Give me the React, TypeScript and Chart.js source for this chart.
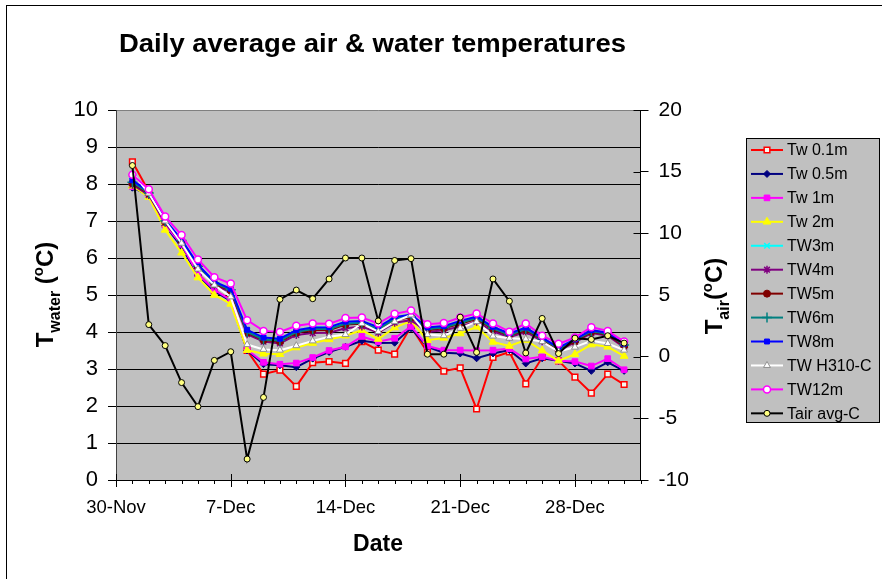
import React, { useEffect, useRef } from "react";
import { Chart, registerables } from "chart.js";
import { drawPoint } from "chart.js/helpers";

Chart.register(...registerables);

const FONT = "'Liberation Sans', Arial, sans-serif";

// day offset from 30-Nov (1 = 1-Dec ... 31 = 31-Dec)
const days = [1, 2, 3, 4, 5, 6, 7, 8, 9, 10, 11, 12, 13, 14, 15, 16, 17, 18, 19, 20, 21, 22, 23, 24, 25, 26, 27, 28, 29, 30, 31];
const xTickLabels = ["30-Nov", "7-Dec", "14-Dec", "21-Dec", "28-Dec"];
const seriesNames = ["Tw 0.1m", "Tw 0.5m", "Tw 1m", "Tw 2m", "TW3m", "TW4m", "TW5m", "TW6m", "TW8m", "TW H310-C", "TW12m", "Tair avg-C"];

const tw01 = [8.6, 7.8, 6.92, 6.35, 5.58, 5.12, 4.88, 3.5, 2.86, 2.97, 2.53, 3.17, 3.2, 3.15, 3.74, 3.51, 3.4, 4.14, 3.45, 2.94, 3.03, 1.92, 3.31, 3.46, 2.6, 3.31, 3.22, 2.78, 2.35, 2.86, 2.58];
const tw05 = [7.9, 7.7, 6.88, 6.3, 5.54, 5.1, 4.84, 3.5, 3.13, 3.1, 3.05, 3.28, 3.46, 3.6, 3.76, 3.7, 3.71, 4.1, 3.6, 3.44, 3.42, 3.29, 3.42, 3.51, 3.15, 3.29, 3.22, 3.15, 2.95, 3.18, 2.95];
const tw1 = [7.93, 7.72, 6.89, 6.37, 5.56, 5.14, 4.86, 3.52, 3.18, 3.13, 3.16, 3.31, 3.5, 3.6, 3.88, 3.74, 3.83, 4.15, 3.62, 3.51, 3.51, 3.5, 3.51, 3.55, 3.27, 3.33, 3.22, 3.2, 3.08, 3.28, 2.98];
const tw2 = [7.95, 7.65, 6.76, 6.14, 5.47, 5.0, 4.76, 3.51, 3.41, 3.4, 3.58, 3.7, 3.8, 3.9, 4.05, 3.81, 4.12, 4.3, 3.78, 3.84, 3.96, 4.14, 3.73, 3.62, 3.78, 3.5, 3.22, 3.4, 3.66, 3.6, 3.35];
const tw3 = [8.08, 7.78, 7.02, 6.5, 5.8, 5.35, 5.16, 4.03, 3.83, 3.8, 4.05, 4.12, 4.12, 4.27, 4.28, 4.12, 4.38, 4.45, 4.1, 4.15, 4.28, 4.4, 4.12, 3.95, 4.1, 3.84, 3.57, 3.8, 4.05, 3.97, 3.68];
const tw4 = [7.98, 7.7, 6.95, 6.4, 5.72, 5.26, 5.08, 3.94, 3.74, 3.69, 3.92, 3.97, 3.98, 4.1, 4.15, 3.98, 4.25, 4.32, 4.0, 4.05, 4.15, 4.28, 4.02, 3.86, 4.0, 3.75, 3.5, 3.72, 3.97, 3.9, 3.58];
const tw5 = [8.02, 7.74, 6.98, 6.45, 5.76, 5.3, 5.12, 3.98, 3.78, 3.74, 3.98, 4.05, 4.05, 4.2, 4.22, 4.05, 4.32, 4.4, 4.05, 4.1, 4.22, 4.35, 4.08, 3.9, 4.05, 3.8, 3.52, 3.75, 4.0, 3.93, 3.62];
const tw6 = [8.05, 7.76, 7.0, 6.47, 5.78, 5.33, 5.14, 4.0, 3.8, 3.77, 4.0, 4.08, 4.08, 4.22, 4.25, 4.08, 4.35, 4.42, 4.08, 4.12, 4.25, 4.38, 4.1, 3.92, 4.08, 3.82, 3.55, 3.78, 4.02, 3.95, 3.65];
const tw8 = [8.1, 7.8, 7.02, 6.5, 5.82, 5.36, 5.17, 4.06, 3.85, 3.82, 4.05, 4.12, 4.13, 4.28, 4.3, 4.13, 4.4, 4.47, 4.12, 4.16, 4.3, 4.42, 4.14, 3.96, 4.12, 3.85, 3.58, 3.8, 4.05, 3.98, 3.68];
const twH310 = [8.3, 7.75, 7.0, 6.4, 5.7, 5.27, 4.95, 3.66, 3.53, 3.51, 3.63, 3.76, 3.87, 3.93, 4.23, 4.01, 4.28, 4.46, 3.93, 3.9, 4.1, 4.28, 3.89, 3.83, 3.81, 3.74, 3.47, 3.59, 3.76, 3.69, 3.51];
const tw12 = [8.25, 7.86, 7.12, 6.62, 5.96, 5.48, 5.31, 4.32, 4.03, 4.0, 4.17, 4.23, 4.22, 4.38, 4.39, 4.23, 4.49, 4.58, 4.21, 4.24, 4.39, 4.5, 4.23, 4.01, 4.23, 3.9, 3.68, 3.85, 4.13, 4.03, 3.74];
const tair = [15.5, 2.6, 0.9, -2.1, -4.05, -0.3, 0.4, -8.3, -3.3, 4.65, 5.4, 4.7, 6.3, 8.0, 8.0, 2.9, 7.8, 7.95, 0.2, 0.2, 3.2, 0.35, 6.3, 4.5, 0.3, 3.1, 0.25, 1.5, 1.4, 1.7, 1.1];

const seriesValues = [tw01, tw05, tw1, tw2, tw3, tw4, tw5, tw6, tw8, twH310, tw12, tair];

type Style = { line: string; style: any; r: number; bg: string; bd: string; bw: number };
const styles: Style[] = [
  { line: "#FF0000", style: "rect", r: 4, bg: "#F4F8F0", bd: "#FF0000", bw: 1.5 },
  { line: "#000080", style: "rectRot", r: 3.5, bg: "#000080", bd: "#000080", bw: 1 },
  { line: "#FF00FF", style: "rect", r: 4, bg: "#FF00FF", bd: "#FF00FF", bw: 1 },
  { line: "#FFFF00", style: "triangle", r: 4.5, bg: "#FFFF00", bd: "#FFFF00", bw: 1 },
  { line: "#00FFFF", style: "crossRot", r: 4, bg: "#00FFFF", bd: "#00FFFF", bw: 1.5 },
  { line: "#800080", style: "star", r: 4, bg: "#800080", bd: "#800080", bw: 1.5 },
  { line: "#800000", style: "circle", r: 3.5, bg: "#800000", bd: "#800000", bw: 1 },
  { line: "#008080", style: "cross", r: 5, bg: "#008080", bd: "#008080", bw: 1.5 },
  { line: "#0000FF", style: "rect", r: 3.5, bg: "#0000FF", bd: "#0000FF", bw: 1 },
  { line: "#FFFFFF", style: "triangle", r: 4, bg: "#FFFFFF", bd: "#909090", bw: 1 },
  { line: "#FF00FF", style: "circle", r: 3.5, bg: "#FFFFFF", bd: "#FF00FF", bw: 1.5 },
  { line: "#000000", style: "circle", r: 3, bg: "#FFFF80", bd: "#000000", bw: 1 },
];

function drawRich(ctx: CanvasRenderingContext2D, parts: { t: string; size: number; dy: number }[]) {
  let total = 0;
  for (const p of parts) {
    ctx.font = `bold ${p.size}px ${FONT}`;
    total += ctx.measureText(p.t).width;
  }
  let x = -total / 2;
  ctx.textAlign = "left";
  ctx.textBaseline = "alphabetic";
  for (const p of parts) {
    ctx.font = `bold ${p.size}px ${FONT}`;
    ctx.fillText(p.t, x, p.dy);
    x += ctx.measureText(p.t).width;
  }
}

const decorPlugin = {
  id: "decor",
  beforeDraw(chart: any) {
    const ctx = chart.ctx as CanvasRenderingContext2D;
    const a = chart.chartArea;
    ctx.save();
    ctx.fillStyle = "#FFFFFF";
    ctx.fillRect(0, 0, chart.width, chart.height);
    ctx.strokeStyle = "#000000";
    ctx.lineWidth = 1;
    ctx.strokeRect(6.5, 5.5, 900, 600);
    ctx.fillStyle = "#C0C0C0";
    ctx.fillRect(a.left, a.top, a.right - a.left, a.bottom - a.top);
    ctx.restore();
  },
  afterDraw(chart: any) {
    const ctx = chart.ctx as CanvasRenderingContext2D;
    const a = chart.chartArea;
    const xs = chart.scales.x;
    const y2 = chart.scales.y2;
    ctx.save();
    // x-axis ticks
    ctx.strokeStyle = "#000000";
    ctx.lineWidth = 1;
    for (let d = 0; d <= 32; d++) {
      const px = Math.round(xs.getPixelForValue(d)) + 0.5;
      ctx.beginPath();
      if (d % 7 === 0) {
        ctx.moveTo(px, a.bottom - 6);
        ctx.lineTo(px, a.bottom + 7);
      } else {
        ctx.moveTo(px, a.bottom);
        ctx.lineTo(px, a.bottom + 4);
      }
      ctx.stroke();
    }
    // right axis inner ticks
    for (let v = -10; v <= 20; v += 5) {
      const py = Math.round(y2.getPixelForValue(v)) + 0.5;
      ctx.beginPath();
      ctx.moveTo(a.right - 7, py);
      ctx.lineTo(a.right, py);
      ctx.stroke();
    }
    // title (stretched to the reference's width)
    ctx.fillStyle = "#000000";
    const title = "Daily average air & water temperatures";
    ctx.font = `bold 26px ${FONT}`;
    ctx.textAlign = "left";
    ctx.textBaseline = "alphabetic";
    const tw = ctx.measureText(title).width;
    ctx.save();
    ctx.translate(119, 52);
    ctx.scale(507 / tw, 1);
    ctx.fillText(title, 0, 0);
    ctx.restore();
    // x title
    ctx.font = `bold 23px ${FONT}`;
    ctx.textAlign = "center";
    ctx.fillText("Date", 378, 551);
    // left title
    ctx.save();
    ctx.translate(53, 294.5);
    ctx.rotate(-Math.PI / 2);
    drawRich(ctx, [
      { t: "T", size: 24, dy: 0 },
      { t: "water", size: 16, dy: 7 },
      { t: " (", size: 24, dy: 0 },
      { t: "o", size: 15, dy: -10 },
      { t: "C)", size: 24, dy: 0 },
    ]);
    ctx.restore();
    // right title
    ctx.save();
    ctx.translate(722, 296);
    ctx.rotate(-Math.PI / 2);
    drawRich(ctx, [
      { t: "T", size: 24, dy: 0 },
      { t: "air", size: 16, dy: 7 },
      { t: "(", size: 24, dy: 0 },
      { t: "o", size: 15, dy: -10 },
      { t: "C)", size: 24, dy: 0 },
    ]);
    ctx.restore();
    // legend
    const lx = 746.5, ly = 138.5, lw = 133, lh = 284;
    ctx.fillStyle = "#C0C0C0";
    ctx.fillRect(lx, ly, lw, lh);
    ctx.strokeStyle = "#000000";
    ctx.lineWidth = 1;
    ctx.strokeRect(lx, ly, lw, lh);
    chart.data.datasets.forEach((ds: any, i: number) => {
      const st = styles[i];
      const cy = 150 + i * 23.94;
      ctx.strokeStyle = st.line;
      ctx.lineWidth = 2;
      ctx.beginPath();
      ctx.moveTo(751, cy);
      ctx.lineTo(783, cy);
      ctx.stroke();
      ctx.fillStyle = st.bg;
      ctx.strokeStyle = st.bd;
      ctx.lineWidth = st.bw;
      drawPoint(ctx, { pointStyle: st.style, radius: st.r, rotation: 0, borderWidth: st.bw } as any, 767, cy);
      ctx.fillStyle = "#000000";
      ctx.font = `16px ${FONT}`;
      ctx.textAlign = "left";
      ctx.textBaseline = "middle";
      ctx.fillText(ds.label, 787, cy + 1);
    });
    ctx.restore();
  },
};

export default function App() {
  const ref = useRef<HTMLCanvasElement>(null);
  useEffect(() => {
    document.body.style.margin = "0";
    const canvas = ref.current!;
    const datasets = seriesNames.map((name, i) => {
      const st = styles[i];
      return {
        label: name,
        data: days.map((d, j) => ({ x: d, y: seriesValues[i][j] })),
        yAxisID: i === 11 ? "y2" : "y",
        borderColor: st.line,
        backgroundColor: st.bg,
        borderWidth: 2,
        pointStyle: st.style,
        pointRadius: st.r,
        pointBackgroundColor: st.bg,
        pointBorderColor: st.bd,
        pointBorderWidth: st.bw,
        tension: 0,
        fill: false,
        order: 12 - i,
      };
    });
    const chart = new Chart(canvas, {
      type: "line",
      data: { datasets },
      options: {
        responsive: false,
        animation: false,
        devicePixelRatio: 1,
        layout: { padding: { top: 110, left: 0, right: 0, bottom: 0 } },
        plugins: { legend: { display: false }, title: { display: false }, tooltip: { enabled: false } },
        scales: {
          x: {
            type: "linear",
            min: 0,
            max: 32,
            afterFit: (s: any) => { s.height = 99; },
            ticks: {
              stepSize: 1,
              autoSkip: false,
              maxRotation: 0,
              padding: 17,
              color: "#000",
              font: { family: FONT, size: 18.5 },
              callback: (v: any) => (Number(v) % 7 === 0 && xTickLabels[Number(v) / 7] ? xTickLabels[Number(v) / 7] : ""),
            },
            grid: { drawOnChartArea: false, drawTicks: false },
            border: { color: "#000", width: 1 },
          },
          y: {
            position: "left",
            min: 0,
            max: 10,
            afterFit: (s: any) => { s.width = 116; },
            ticks: { stepSize: 1, padding: 10, color: "#000", font: { family: FONT, size: 22 } },
            grid: {
              color: (c: any) => (c.tick && c.tick.value === 10 ? "#808080" : "#000000"),
              tickColor: "#000000",
              tickLength: 8,
              lineWidth: 1,
            },
            border: { color: "#404040", width: 1 },
          },
          y2: {
            position: "right",
            min: -10,
            max: 20,
            afterFit: (s: any) => { s.width = 241.5; },
            ticks: { stepSize: 5, padding: 10, color: "#000", font: { family: FONT, size: 21 } },
            grid: { drawOnChartArea: false, tickColor: "#000000", tickLength: 8 },
            border: { color: "#000", width: 1 },
          },
        },
      } as any,
      plugins: [decorPlugin],
    });
    return () => chart.destroy();
  }, []);
  return <canvas ref={ref} width={882} height={579} style={{ display: "block", width: 882, height: 579 }} />;
}
